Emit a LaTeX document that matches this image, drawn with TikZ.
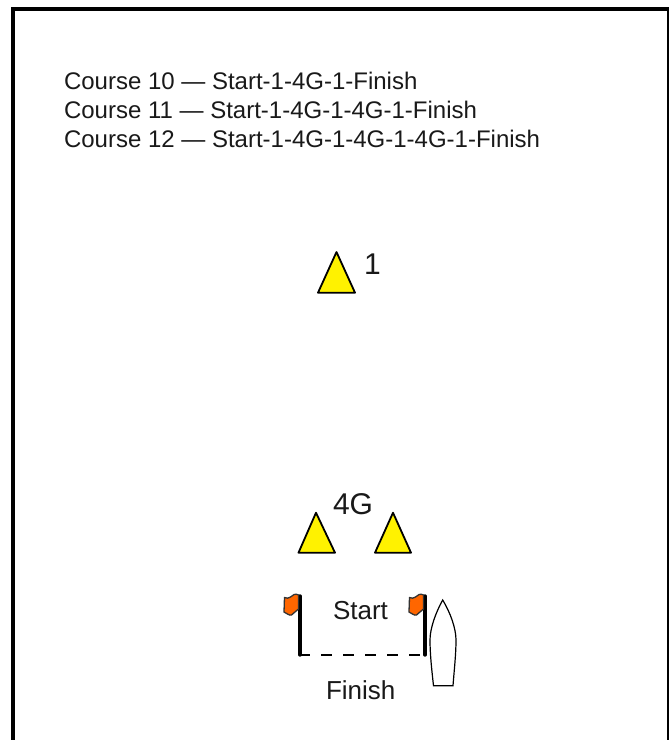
\documentclass[tikz,border=0pt]{standalone}
\usepackage{fontspec}
\setmainfont{Liberation Sans}
\definecolor{flagor}{RGB}{255,102,0}
\tikzset{
  lbl/.style={inner sep=0pt,outer sep=0pt,anchor=base west,font=\fontsize{24}{28}\selectfont,text=black!90},
  mid/.style={inner sep=0pt,outer sep=0pt,anchor=base west,font=\fontsize{26}{30}\selectfont,text=black!90},
  big/.style={inner sep=0pt,outer sep=0pt,anchor=base west,font=\fontsize{30}{34}\selectfont,text=black!90},
  mark1/.style={draw=black,line width=1.8pt,fill=yellow,line join=round},
  pole/.style={line width=3.4pt,black},
  flagcloth/.style={draw=black!80,line width=1.3pt,fill=flagor,line join=round}
}
\newcommand{\flagat}[1]{\draw[flagcloth,shift={(#1,0)}] (0,595) .. controls (-3,593) and (-6,595) .. (-8,597) .. controls (-10,599) and (-12,598) .. (-14,597.5) -- (-14.5,612) .. controls (-12,613) and (-9,616) .. (-7,615) .. controls (-4,613) and (-2,610) .. (0,609) -- cycle;}
\begin{document}
\begin{tikzpicture}[x=1pt,y=-1pt]
\useasboundingbox (0,0) rectangle (669,740);
\clip (0,0) rectangle (669,740);
\fill[white] (0,0) rectangle (669,740);
\draw[line width=3.8pt,black] (12.9,760) -- (12.9,8.9) -- (669,8.9) -- (669,760);
\node[lbl] (c10) at (64,89) {Course 10 — Start-1-4G-1-Finish};
\node[lbl] (c11) at (64,118) {Course 11 — Start-1-4G-1-4G-1-Finish};
\node[lbl] (c12) at (64,147) {Course 12 — Start-1-4G-1-4G-1-4G-1-Finish};
\draw[mark1] (336.5,252) -- (355,292.7) -- (318,292.7) -- cycle;
\node[big] (one) at (364,274) {1};
\draw[mark1] (316,512.7) -- (335,552.7) -- (298.5,552.7) -- cycle;
\draw[mark1] (393,512.7) -- (411,552.7) -- (375,552.7) -- cycle;
\node[big] (fourg) at (333,514) {4G};
\draw[pole,line cap=round] (300,596) -- (300,655);
\draw[pole,line cap=round] (425,596) -- (425,655);
\flagat{298.5}
\flagat{423.5}
\draw[line width=2.6pt,black,dash pattern=on 11pt off 11pt] (299,655) -- (425,655);
\draw[line width=1.2pt,black,fill=white] (442.7,600) .. controls (450,612) and (456,628) .. (456,640) .. controls (456,655) and (454,672) .. (453,685.7) -- (433.5,685.7) .. controls (432,672) and (430,655) .. (430,640) .. controls (430,628) and (436,612) .. (442.7,600) -- cycle;
\node[mid] (start) at (333,619) {Start};
\node[mid] (finish) at (326,699) {Finish};
\end{tikzpicture}
\end{document}
